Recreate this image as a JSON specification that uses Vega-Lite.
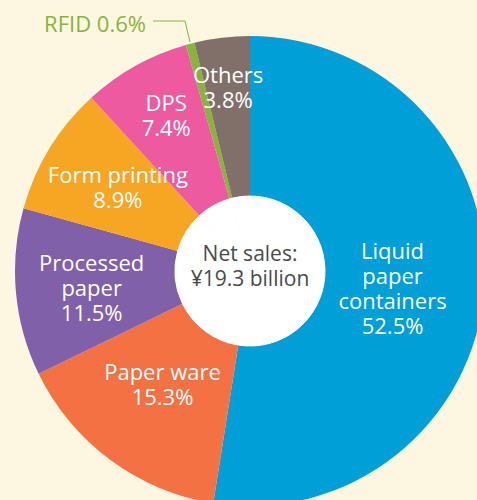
{
  "$schema": "https://vega.github.io/schema/vega-lite/v6.json",
  "width": 477,
  "height": 500,
  "autosize": {"type": "none"},
  "padding": 0,
  "background": "#FDF7E1",
  "config": {"view": {"stroke": null}, "text": {"font": "Open Sans", "lineBreak": "\n"}},
  "datasets": {
    "segments": [
      {"name": "Liquid paper containers", "pct": 52.5, "order": 1, "label": "Liquid\npaper\ncontainers\n52.5%"},
      {"name": "Paper ware", "pct": 15.3, "order": 2, "label": "Paper ware\n15.3%"},
      {"name": "Processed paper", "pct": 11.5, "order": 3, "label": "Processed\npaper\n11.5%"},
      {"name": "Form printing", "pct": 8.9, "order": 4, "label": "Form printing\n8.9%"},
      {"name": "DPS", "pct": 7.4, "order": 5, "label": "DPS\n7.4%"},
      {"name": "RFID", "pct": 0.6, "order": 6, "label": ""},
      {"name": "Others", "pct": 3.8, "order": 7, "label": "Others\n3.8%"}
    ],
    "leader": [
      {"px": -97, "py": 250, "step": 1},
      {"px": -65, "py": 250, "step": 2},
      {"px": -60, "py": 229, "step": 3}
    ]
  },
  "layer": [
    {
      "data": {"name": "segments"},
      "mark": {"type": "arc", "outerRadius": 235},
      "encoding": {
        "x": {"datum": 0, "type": "quantitative", "scale": {"domain": [-250, 227], "nice": false, "zero": false}, "axis": null},
        "y": {"datum": 0, "type": "quantitative", "scale": {"domain": [-229, 271], "nice": false, "zero": false}, "axis": null},
        "theta": {"field": "pct", "type": "quantitative", "stack": true},
        "order": {"field": "order", "type": "quantitative"},
        "color": {
          "field": "name", "type": "nominal", "legend": null,
          "scale": {
            "domain": ["Liquid paper containers", "Paper ware", "Processed paper", "Form printing", "DPS", "RFID", "Others"],
            "range": ["#009FD7", "#F37143", "#7F60A9", "#F6A623", "#EE5A9F", "#86B43D", "#807069"]
          }
        }
      }
    },
    {
      "data": {"name": "segments"},
      "mark": {"type": "arc", "outerRadius": 75, "fill": "#FFFFFF", "stroke": "#FFFFFF", "strokeWidth": 1},
      "encoding": {
        "x": {"datum": 0, "type": "quantitative"},
        "y": {"datum": 0, "type": "quantitative"},
        "theta": {"field": "pct", "type": "quantitative", "stack": true},
        "order": {"field": "order", "type": "quantitative"}
      }
    },
    {
      "data": {"name": "segments"},
      "mark": {"type": "text", "radius": 143, "dy": -30, "fontSize": 22, "fill": "#FFFFFF", "align": "center", "baseline": "middle", "lineHeight": 25},
      "encoding": {
        "x": {"datum": 0, "type": "quantitative"},
        "y": {"datum": 0, "type": "quantitative"},
        "theta": {"field": "pct", "type": "quantitative", "stack": true},
        "order": {"field": "order", "type": "quantitative"},
        "text": {"condition": {"test": "datum.name == 'Liquid paper containers'", "field": "label"}, "value": ""}
      }
    },
    {
      "data": {"name": "segments"},
      "mark": {"type": "text", "radius": 147, "dy": -16, "fontSize": 22, "fill": "#FFFFFF", "align": "center", "baseline": "middle", "lineHeight": 25},
      "encoding": {
        "x": {"datum": 0, "type": "quantitative"},
        "y": {"datum": 0, "type": "quantitative"},
        "theta": {"field": "pct", "type": "quantitative", "stack": true},
        "order": {"field": "order", "type": "quantitative"},
        "text": {"condition": {"test": "datum.name == 'Paper ware'", "field": "label"}, "value": ""}
      }
    },
    {
      "data": {"name": "segments"},
      "mark": {"type": "text", "radius": 159, "dy": -21, "fontSize": 22, "fill": "#FFFFFF", "align": "center", "baseline": "middle", "lineHeight": 25},
      "encoding": {
        "x": {"datum": 0, "type": "quantitative"},
        "y": {"datum": 0, "type": "quantitative"},
        "theta": {"field": "pct", "type": "quantitative", "stack": true},
        "order": {"field": "order", "type": "quantitative"},
        "text": {"condition": {"test": "datum.name == 'Processed paper'", "field": "label"}, "value": ""}
      }
    },
    {
      "data": {"name": "segments"},
      "mark": {"type": "text", "radius": 155, "dy": -14, "fontSize": 22, "fill": "#FFFFFF", "align": "center", "baseline": "middle", "lineHeight": 25},
      "encoding": {
        "x": {"datum": 0, "type": "quantitative"},
        "y": {"datum": 0, "type": "quantitative"},
        "theta": {"field": "pct", "type": "quantitative", "stack": true},
        "order": {"field": "order", "type": "quantitative"},
        "text": {"condition": {"test": "datum.name == 'Form printing'", "field": "label"}, "value": ""}
      }
    },
    {
      "data": {"name": "segments"},
      "mark": {"type": "text", "radius": 172, "dy": -17, "fontSize": 22, "fill": "#FFFFFF", "align": "center", "baseline": "middle", "lineHeight": 25},
      "encoding": {
        "x": {"datum": 0, "type": "quantitative"},
        "y": {"datum": 0, "type": "quantitative"},
        "theta": {"field": "pct", "type": "quantitative", "stack": true},
        "order": {"field": "order", "type": "quantitative"},
        "text": {"condition": {"test": "datum.name == 'DPS'", "field": "label"}, "value": ""}
      }
    },
    {
      "data": {"name": "segments"},
      "mark": {"type": "text", "radius": 184, "dy": -12, "fontSize": 22, "fill": "#FFFFFF", "align": "center", "baseline": "middle", "lineHeight": 25},
      "encoding": {
        "x": {"datum": 0, "type": "quantitative"},
        "y": {"datum": 0, "type": "quantitative"},
        "theta": {"field": "pct", "type": "quantitative", "stack": true},
        "order": {"field": "order", "type": "quantitative"},
        "text": {"condition": {"test": "datum.name == 'Others'", "field": "label"}, "value": ""}
      }
    },
    {
      "data": {"values": [{"t": "center"}]},
      "mark": {"type": "text", "text": ["Net sales:", "¥19.3 billion"], "dy": -16, "fontSize": 21, "fill": "#4A4A4A", "align": "center", "baseline": "middle", "lineHeight": 25},
      "encoding": {
        "x": {"datum": 0, "type": "quantitative"},
        "y": {"datum": 0, "type": "quantitative"}
      }
    },
    {
      "data": {"name": "leader"},
      "mark": {"type": "line", "stroke": "#86B43D", "strokeWidth": 1},
      "encoding": {
        "x": {"field": "px", "type": "quantitative"},
        "y": {"field": "py", "type": "quantitative"},
        "order": {"field": "step", "type": "quantitative"}
      }
    },
    {
      "data": {"values": [{"t": "RFID 0.6%"}]},
      "mark": {"type": "text", "fontSize": 22, "fill": "#86B43D", "align": "right", "baseline": "middle"},
      "encoding": {
        "x": {"datum": -104, "type": "quantitative"},
        "y": {"datum": 246, "type": "quantitative"},
        "text": {"field": "t"}
      }
    }
  ]
}
